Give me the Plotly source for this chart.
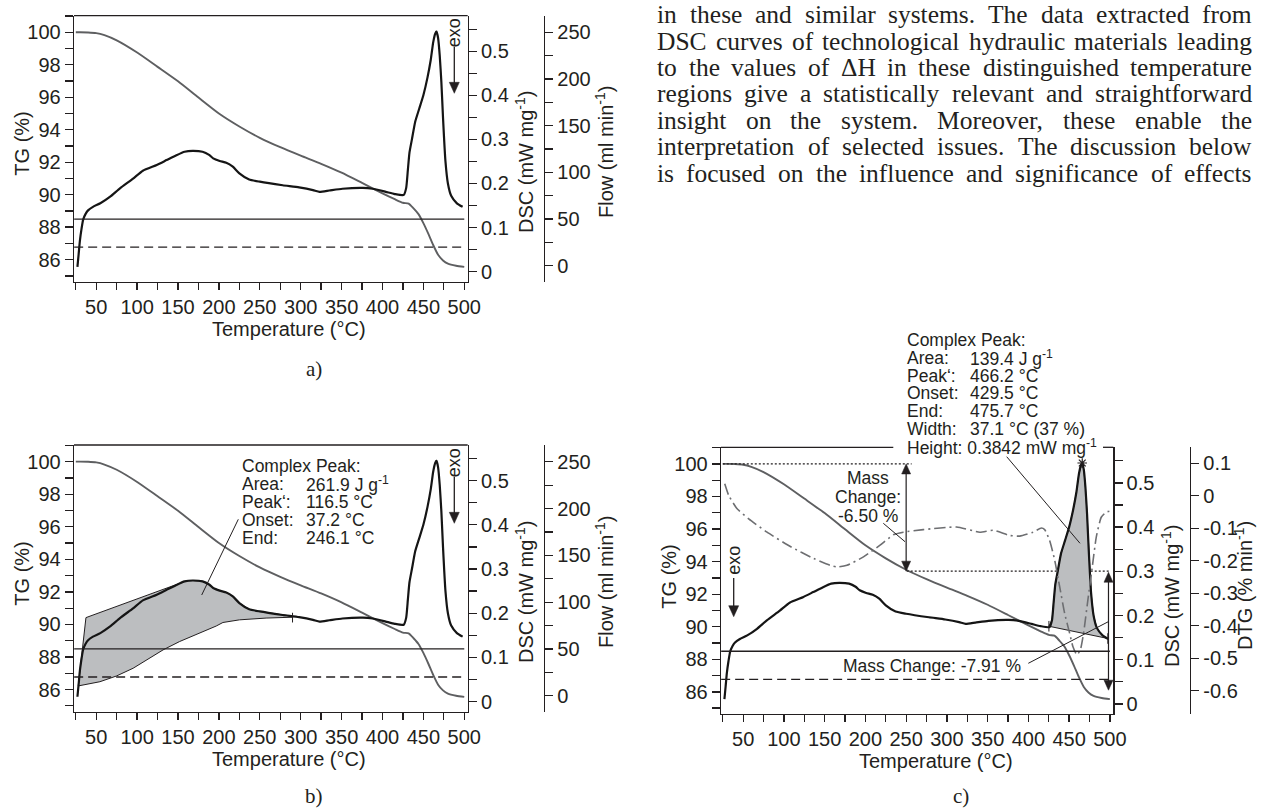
import plotly.graph_objects as go

W, H = 1261, 811
AX = "#231f20"
TXT = "#231f20"
SANS = "Liberation Sans, Arial, Helvetica, sans-serif"
SERIF = "Liberation Serif, Times New Roman, serif"


def PX(x):
    return x / W


def PY(y):
    return 1 - y / H


# ---------------- data ----------------
temp_tg = [25, 30, 40, 50, 60, 75, 100, 125, 150, 175, 200, 225, 250, 275, 300, 325, 350,
           375, 400, 415, 425, 432, 438, 444, 450, 456, 462, 468, 474, 480, 490, 500]
tg = [100.0, 100.0, 99.99, 99.95, 99.82, 99.5, 98.75, 97.87, 96.98, 95.98, 95.0, 94.2, 93.5,
      92.92, 92.4, 91.9, 91.35, 90.72, 90.08, 89.72, 89.5, 89.45, 89.15, 88.8, 88.25, 87.6,
      86.9, 86.3, 85.95, 85.75, 85.62, 85.55]

temp_dsc = [27, 28.5, 30, 32, 34, 37, 40, 46, 55, 67, 79, 95, 107, 124, 136, 148, 158, 168,
            180, 188, 193, 201, 209, 217, 225, 237, 250, 278, 298, 315, 323, 335, 351, 376,
            388, 404, 415, 426, 429, 431, 433, 436, 440, 445, 450, 455, 459, 462, 464.5, 466,
            468, 470, 472, 474, 477, 480, 484, 491, 498]
dsc = [0.011, 0.04, 0.07, 0.097, 0.118, 0.131, 0.139, 0.147, 0.155, 0.170, 0.189, 0.211,
       0.229, 0.242, 0.253, 0.264, 0.272, 0.274, 0.272, 0.265, 0.257, 0.251, 0.247, 0.238,
       0.223, 0.209, 0.204, 0.196, 0.191, 0.185, 0.181, 0.184, 0.188, 0.190, 0.188, 0.181,
       0.176, 0.174, 0.19, 0.23, 0.27, 0.30, 0.34, 0.37, 0.40, 0.44, 0.48, 0.52, 0.54, 0.545,
       0.53, 0.49, 0.43, 0.35, 0.25, 0.2, 0.172, 0.155, 0.147]

temp_dtg = [27.4, 32.3, 42.6, 56.8, 79.3, 107.9, 136.4, 156.8, 165, 177.3, 197.6, 218, 234.3,
            246.5, 271, 311.9, 340.4, 356.7, 377, 389.4, 405.7, 416, 420, 426, 432.3, 438.4,
            444.5, 450.6, 454.6, 459.5, 463.7, 467.7, 473, 478.4, 483.3, 489.4, 495.5, 500.4]
dtg = [0.037, 0.001, -0.040, -0.071, -0.112, -0.156, -0.193, -0.214, -0.219, -0.214, -0.188,
       -0.152, -0.12, -0.112, -0.104, -0.096, -0.112, -0.106, -0.122, -0.124, -0.112, -0.099,
       -0.104, -0.137, -0.198, -0.28, -0.362, -0.423, -0.464, -0.49, -0.475, -0.423, -0.321,
       -0.219, -0.127, -0.066, -0.05, -0.047]

flow_temp = [23, 500]
flow_total = [50, 50]
flow_purge = [20, 20]

# panel b integrated area (complex peak)
b_upper_temp = [28, 37.4, 160, 168, 180, 188, 193, 201, 209, 217, 225, 237, 250, 278, 290]
b_upper_dsc = [0.0355, 0.190, 0.273, 0.274, 0.272, 0.265, 0.257, 0.251, 0.247, 0.238, 0.223,
               0.209, 0.204, 0.196, 0.193]
b_lower_temp = [290.2, 257.7, 225.2, 204.9, 196.7, 176.4, 152, 131.7, 111.4, 95.1, 74.8, 54.5, 28]
b_lower_dsc = [0.191, 0.189, 0.185, 0.179, 0.171, 0.155, 0.136, 0.117, 0.093, 0.0755, 0.058,
               0.045, 0.0355]
b_end_temp = 290
b_end_dsc = 0.19

# panel c integrated peak
c_peak_temp = [425.2, 429, 431, 433, 436, 440, 445, 450, 455, 459, 462, 464.5, 466, 468, 470,
               472, 474, 477, 480, 484, 491, 497.5]
c_peak_dsc = [0.176, 0.19, 0.23, 0.27, 0.30, 0.34, 0.37, 0.40, 0.44, 0.48, 0.52, 0.54, 0.545,
              0.53, 0.49, 0.43, 0.35, 0.25, 0.2, 0.172, 0.155, 0.148]
c_base_temp = [425.2, 497.5]
c_base_dsc = [0.1757, 0.148]
c_peak_top = (466.1, 0.545)

# mass change markers (panel c)
mc1_temp = 250
mc1_tg = [100.0, 93.41]
mc2_temp = 498.3
mc2_tg = [93.35, 86.1]
dot1_temp = [25, 256.7]
dot2_temp = [250.7, 501]

TEMP_RANGE = [22.8, 504.2]
TG_RANGE = [84.64, 101.02]
DSC_RANGE = [-0.0228, 0.5805]
FLOW_RANGE = [-17.1, 268]
DTG_RANGE = [-0.672, 0.1495]
dtg_ticks = [0.1, 0, -0.1, -0.2, -0.3, -0.4, -0.5, -0.6]
dtg_ticktext = ["0.1", "0", "-0.1", "-0.2", "-0.3", "-0.4", "-0.5", "-0.6"]

# ---------------- layout geometry (pixels) ----------------
panels = {
    "a": dict(x0=74, x1=467.7, y0=15.7, y1=281.7),
    "b": dict(x0=74, x1=467.7, y0=445, y1=711.7),
    "c": dict(x0=721, x1=1113.3, y0=447.3, y1=714),
}

TICKFONT = dict(family=SANS, size=20, color=TXT)
LW = 1.3


def tick_common():
    return dict(showline=True, linecolor=AX, linewidth=LW, ticks="outside", ticklen=8,
                tickwidth=LW, tickcolor=AX, showgrid=False, zeroline=False,
                tickfont=TICKFONT)


def minor(t0, dt, ln=8):
    return dict(tick0=t0, dtick=dt, ticks="outside", ticklen=ln, tickwidth=LW, tickcolor=AX,
                showgrid=False)


def xcfg(p, anchor):
    d = tick_common()
    d.update(domain=[PX(p["x0"]), PX(p["x1"])], anchor=anchor, range=TEMP_RANGE,
             tick0=0, dtick=50, ticklen=7, minor=minor(25, 25, 7))
    return d


def tgcfg(p, anchor):
    d = tick_common()
    d.update(domain=[PY(p["y1"]), PY(p["y0"])], anchor=anchor, range=TG_RANGE, tick0=0,
             dtick=2, minor=minor(0, 1))
    return d


def dsccfg(over, anchor):
    d = tick_common()
    d.update(overlaying=over, anchor=anchor, side="right", range=DSC_RANGE, tick0=0,
             dtick=0.1, minor=minor(0, 0.05))
    return d


def flowcfg(over, pos):
    d = tick_common()
    d.update(overlaying=over, anchor="free", position=PX(pos), side="right", range=FLOW_RANGE,
             tick0=0, dtick=50, minor=minor(0, 25))
    return d


fig = go.Figure()

TG_COL = "#5e5f61"
DSC_COL = "#151515"
FILL_COL = "#bcbec0"


def add_flow(xa, flowa):
    fig.add_trace(go.Scatter(x=flow_temp, y=flow_total, xaxis=xa, yaxis=flowa, mode="lines",
                             line=dict(color=AX, width=1.3)))
    fig.add_trace(go.Scatter(x=flow_temp, y=flow_purge, xaxis=xa, yaxis=flowa, mode="lines",
                             line=dict(color=AX, width=1.3, dash="9px,5px")))


def add_curves(xa, tga, dsca):
    fig.add_trace(go.Scatter(x=temp_tg, y=tg, xaxis=xa, yaxis=tga, mode="lines",
                             line=dict(color=TG_COL, width=1.9, shape="spline", smoothing=0.6)))
    fig.add_trace(go.Scatter(x=temp_dsc, y=dsc, xaxis=xa, yaxis=dsca, mode="lines",
                             line=dict(color=DSC_COL, width=2.2, shape="spline", smoothing=0.5)))


# panel a
add_flow("x", "y3")
add_curves("x", "y", "y2")

# panel b
add_flow("x2", "y6")
fig.add_trace(go.Scatter(x=b_upper_temp + b_lower_temp, y=b_upper_dsc + b_lower_dsc,
                         xaxis="x2", yaxis="y5", mode="lines", fill="toself",
                         fillcolor=FILL_COL, line=dict(color=AX, width=1)))
add_curves("x2", "y4", "y5")
fig.add_trace(go.Scatter(x=[b_end_temp, b_end_temp], y=[b_end_dsc - 0.011, b_end_dsc + 0.011],
                         xaxis="x2", yaxis="y5", mode="lines", line=dict(color=AX, width=1)))

# panel c
add_flow("x3", "y10")
fig.add_trace(go.Scatter(x=c_peak_temp + c_base_temp[::-1], y=c_peak_dsc + c_base_dsc[::-1],
                         xaxis="x3", yaxis="y8", mode="lines", fill="toself",
                         fillcolor=FILL_COL, line=dict(color=AX, width=1)))
fig.add_trace(go.Scatter(x=temp_dtg, y=dtg, xaxis="x3", yaxis="y9", mode="lines",
                         line=dict(color="#6d6e71", width=1.6, dash="11px,4px,2px,4px",
                                   shape="spline", smoothing=0.5)))
add_curves("x3", "y7", "y8")
for t, v in zip(c_base_temp, c_base_dsc):
    fig.add_trace(go.Scatter(x=[t, t], y=[v - 0.012, v + 0.012], xaxis="x3", yaxis="y8",
                             mode="lines", line=dict(color=AX, width=1)))
fig.add_trace(go.Scatter(x=[c_peak_top[0]], y=[c_peak_top[1]], xaxis="x3", yaxis="y8",
                         mode="markers", marker=dict(symbol="asterisk-open", size=8, color=AX,
                                                     line=dict(color=AX, width=1.2))))
fig.add_trace(go.Scatter(x=dot1_temp, y=[mc1_tg[0]] * 2, xaxis="x3", yaxis="y7", mode="lines",
                         line=dict(color=AX, width=1.2, dash="2px,2px")))
fig.add_trace(go.Scatter(x=dot2_temp, y=[mc1_tg[1]] * 2, xaxis="x3", yaxis="y7", mode="lines",
                         line=dict(color=AX, width=1.2, dash="2px,2px")))

layout = dict(
    width=W, height=H, margin=dict(l=0, r=0, t=0, b=0, autoexpand=False),
    paper_bgcolor="white", plot_bgcolor="white", showlegend=False,
    font=dict(family=SANS, color=TXT),
    xaxis=xcfg(panels["a"], "y"),
    yaxis=tgcfg(panels["a"], "x"),
    yaxis2=dsccfg("y", "x"),
    yaxis3=flowcfg("y", 544),
    xaxis2=xcfg(panels["b"], "y4"),
    yaxis4=tgcfg(panels["b"], "x2"),
    yaxis5=dsccfg("y4", "x2"),
    yaxis6=flowcfg("y4", 544),
    xaxis3=xcfg(panels["c"], "y7"),
    yaxis7=tgcfg(panels["c"], "x3"),
    yaxis8=dsccfg("y7", "x3"),
)
dtgax = tick_common()
dtgax.update(overlaying="y7", anchor="free", position=PX(1190), side="right", range=DTG_RANGE,
             tickmode="array", tickvals=dtg_ticks, ticktext=dtg_ticktext)
layout["yaxis9"] = dtgax
layout["yaxis10"] = dict(overlaying="y7", anchor="x3", range=FLOW_RANGE, visible=False)
fig.update_layout(**layout)

ann = []
shapes = []


def text(s, x, y, size=20, xanchor="center", angle=0, family=SANS):
    ann.append(dict(text=s, x=PX(x), y=PY(y), xref="paper", yref="paper", showarrow=False,
                    xanchor=xanchor, yanchor="middle", textangle=angle,
                    font=dict(family=family, size=size, color=TXT)))


def seg(x0, y0, x1, y1, w=1.0):
    shapes.append(dict(type="line", xref="paper", yref="paper", x0=PX(x0), y0=PY(y0),
                       x1=PX(x1), y1=PY(y1), line=dict(color=AX, width=w)))


def tri(x, ytip, direction, half=5, hgt=11):
    yb = ytip - hgt if direction == "down" else ytip + hgt
    path = "M {} {} L {} {} L {} {} Z".format(PX(x - half), PY(yb), PX(x + half), PY(yb),
                                              PX(x), PY(ytip))
    shapes.append(dict(type="path", xref="paper", yref="paper", path=path, fillcolor=AX,
                       line=dict(color=AX, width=0.5)))


# axis titles
for dy in (0, 430):
    text("TG (%)", 21.7, 144 + dy, angle=-90)
    text("DSC (mW mg<sup>-1</sup>)", 524, 162 + dy, angle=-90)
    text("Flow (ml min<sup>-1</sup>)", 604, 152 + dy, angle=-90)
    text("Temperature (°C)", 289, 328.5 + dy)
text("TG (%)", 668.7, 577, angle=-90)
text("DSC (mW mg<sup>-1</sup>)", 1170, 596, angle=-90)
text("DTG (% min<sup>-1</sup>)", 1243, 586, angle=-90)
text("Temperature (°C)", 936, 761)

# sub-figure labels
text("a)", 314, 369, size=21, family=SERIF)
text("b)", 314, 796, size=21, family=SERIF)
text("c)", 961, 796, size=21, family=SERIF)

# top frame lines
seg(74, 15.7, 467.7, 15.7, LW)
seg(74, 445, 467.7, 445, LW)
seg(721, 447.3, 893.3, 447.3, LW)
seg(1103, 447.3, 1113.3, 447.3, LW)


# exo arrows
def exo(x, ytext, ytail, yhead):
    text("exo", x, ytext, size=18, angle=-90)
    seg(x, ytail, x, yhead - 8, 1.3)
    tri(x, yhead, "down")


exo(454.3, 33, 46.7, 93.3)
exo(454.3, 463, 476.7, 523.3)
exo(733.7, 560, 578, 616.7)

# complex peak (b)
AF = 17.5
rows_b = [("Complex Peak:", ""), ("Area:", "261.9 J g<sup>-1</sup>"), ("Peak‘:", "116.5 °C"),
          ("Onset:", "37.2 °C"), ("End:", "246.1 °C")]
for i, (lab, val) in enumerate(rows_b):
    yy = 466 + 18.1 * i
    text(lab, 240, yy, size=AF, xanchor="left")
    if val:
        text(val, 304, yy, size=AF, xanchor="left")
seg(238.3, 519.3, 201.7, 595)

# complex peak (c)
rows_c = [("Complex Peak:", ""), ("Area:", "139.4 J g<sup>-1</sup>"), ("Peak‘:", "466.2 °C"),
          ("Onset:", "429.5 °C"), ("End:", "475.7 °C"), ("Width:", "37.1 °C (37 %)")]
for i, (lab, val) in enumerate(rows_c):
    yy = 340 + 17.8 * i
    text(lab, 905.3, yy, size=AF, xanchor="left")
    if val:
        text(val, 968, yy, size=AF, xanchor="left")
text("Height: 0.3842 mW mg<sup>-1</sup>", 905.3, 340 + 17.8 * 6, size=AF, xanchor="left")
seg(1006.7, 456.7, 1080, 543.3)

# mass change annotations (c)
text("Mass", 868.3, 478.3, size=AF)
text("Change:", 868.3, 497.3, size=AF)
text("-6.50 %", 868.3, 516, size=AF)
seg(883.3, 523.3, 905, 541.7)
text("Mass Change: -7.91 %", 932, 666, size=AF)
seg(1028.3, 663.3, 1108.3, 621.7)

# double-headed mass-change arrows, drawn in data coordinates of panel c
HW_T = 4.5 / 0.817      # half head width, in degC
HH_TG = 10 / 16.2       # head height, in % TG
for tt, (ytop, ybot) in ((mc1_temp, mc1_tg), (mc2_temp, mc2_tg)):
    shapes.append(dict(type="line", xref="x3", yref="y7", x0=tt, x1=tt, y0=ytop - HH_TG * 0.8,
                       y1=ybot + HH_TG * 0.8, line=dict(color=AX, width=1.2)))
    for tip, sgn in ((ytop, -1), (ybot, 1)):
        base = tip + sgn * HH_TG
        shapes.append(dict(type="path", xref="x3", yref="y7",
                           path="M {} {} L {} {} L {} {} Z".format(tt - HW_T, base, tt + HW_T,
                                                                   base, tt, tip),
                           fillcolor=AX, line=dict(color=AX, width=0.5)))

# justified body text
paragraph = [
    "in these and similar systems. The data extracted from",
    "DSC curves of technological hydraulic materials leading",
    "to the values of ΔH in these distinguished temperature",
    "regions give a statistically relevant and straightforward",
    "insight on the system. Moreover, these enable the",
    "interpretation of selected issues. The discussion below",
    "is focused on the influence and significance of effects",
]
TW = dict(a=444, b=500, c=444, d=500, e=444, f=333, g=500, h=500, i=278, j=278, k=500, l=278,
          m=778, n=500, o=500, p=500, q=500, r=333, s=389, t=278, u=500, v=500, w=722, x=500,
          y=500, z=444)
TW.update({"D": 722, "S": 556, "C": 667, "T": 611, "M": 889, "H": 722, "Δ": 612, ".": 250,
           ",": 250})
FS = 25.5
X0, X1 = 657, 1252
for li, line in enumerate(paragraph):
    words = line.split(" ")
    widths = [sum(TW.get(ch, 500) for ch in w) / 1000 * FS for w in words]
    gap = (X1 - X0 - sum(widths)) / (len(words) - 1)
    base = 23.3 + 26.4 * li
    xx = X0
    for k, (w, wd) in enumerate(zip(words, widths)):
        last = k == len(words) - 1
        ann.append(dict(text=w, x=PX(X1 + 2 if last else xx - 2), y=PY(base - 0.34 * FS),
                        xref="paper", yref="paper", showarrow=False,
                        xanchor="right" if last else "left", yanchor="middle",
                        font=dict(family=SERIF, size=FS, color=TXT)))
        xx += wd + gap

fig.update_layout(annotations=ann, shapes=shapes)
fig.write_html(
    "out.html",
    config={"displayModeBar": False, "staticPlot": True},
    post_script="document.body.style.margin='0';document.body.style.padding='0';"
                "document.documentElement.style.overflow='hidden';"
                "document.body.style.overflow='hidden';",
)
